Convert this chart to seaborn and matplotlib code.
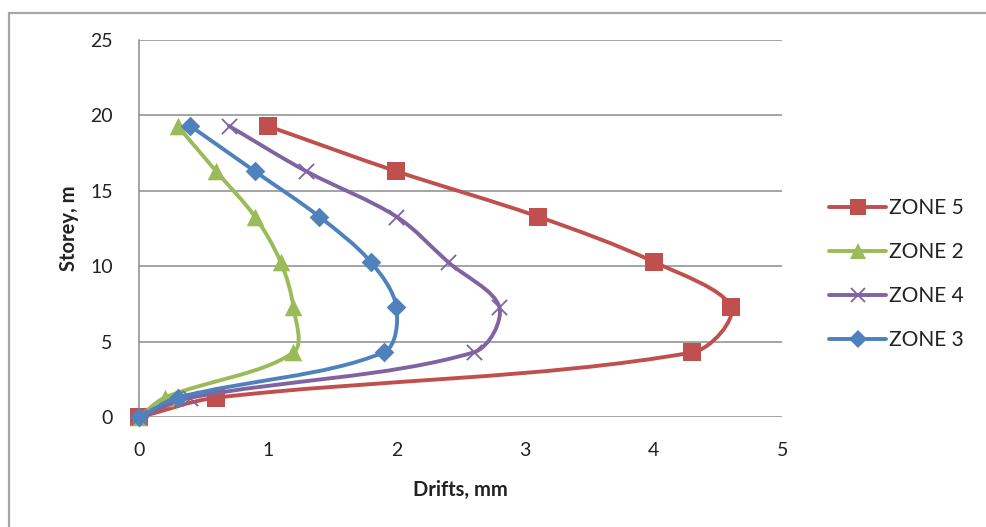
import numpy as np
import pandas as pd
import matplotlib
matplotlib.use("Agg")
import matplotlib.pyplot as plt
import seaborn as sns
from matplotlib.path import Path
from matplotlib.patches import PathPatch, Rectangle
from matplotlib.lines import Line2D

# ---- data ----
storey = [0, 1.3, 4.3, 7.3, 10.3, 13.3, 16.3, 19.3]
zone5 = [0, 0.6, 4.3, 4.6, 4.0, 3.1, 2.0, 1.0]
zone2 = [0, 0.2, 1.2, 1.2, 1.1, 0.9, 0.6, 0.3]
zone4 = [0, 0.4, 2.6, 2.8, 2.4, 2.0, 1.3, 0.7]
zone3 = [0, 0.3, 1.9, 2.0, 1.8, 1.4, 0.9, 0.4]
series_names = ["ZONE 5", "ZONE 2", "ZONE 4", "ZONE 3"]
x_ticks = [0, 1, 2, 3, 4, 5]
y_ticks = [0, 5, 10, 15, 20, 25]

series_vals = [zone5, zone2, zone4, zone3]
colors = ["#C0504D", "#9BBB59", "#8064A2", "#4F81BD"]
markers = ["s", "^", "x", "D"]
msizes = [160, 160, 120, 100]

sns.set_style("white")
plt.rcParams["font.family"] = ["Lato", "DejaVu Sans"]

fig = plt.figure(figsize=(9.87, 5.27), dpi=100)
L, R, T, B = 139, 782.5, 40, 417.3
W, H = 987, 527
ax = fig.add_axes([L / W, 1 - B / H, (R - L) / W, (B - T) / H])
ax.set_xlim(0, 5)
ax.set_ylim(0, 25)

# outer chart border
fig.patches.append(Rectangle((9 / W, -0.05), 1.2, 1 - 13 / H + 0.05,
                             transform=fig.transFigure, fill=False,
                             edgecolor="#A6A6A6", linewidth=1.6, zorder=0))

# pixel scales used for the length-weighted (Excel-like) smoothing
sx = (R - L) / 5.0
sy = (B - T) / 25.0


def smooth_path(xs, ys):
    """Excel-like smoothed line: length-weighted cardinal Bezier through the data points."""
    pts = np.column_stack([xs, ys]).astype(float)
    scale = np.array([sx, sy])
    n = len(pts)
    cin = [None] * n
    cout = [None] * n
    for i in range(n):
        p0 = pts[max(i - 1, 0)]
        p1 = pts[i]
        p2 = pts[min(i + 1, n - 1)]
        d01 = np.linalg.norm((p1 - p0) * scale)
        d12 = np.linalg.norm((p2 - p1) * scale)
        tot = d01 + d12
        if tot == 0:
            cin[i] = cout[i] = p1
            continue
        tan = p2 - p0
        cin[i] = p1 - tan * (d01 / tot) / 3.0
        cout[i] = p1 + tan * (d12 / tot) / 3.0
    verts = [pts[0]]
    codes = [Path.MOVETO]
    for i in range(n - 1):
        verts += [cout[i], cin[i + 1], pts[i + 1]]
        codes += [Path.CURVE4] * 3
    return Path(verts, codes)


for i, (name, vals) in enumerate(zip(series_names, series_vals)):
    df = pd.DataFrame({"Drifts": vals, "Storey": storey})
    patch = PathPatch(smooth_path(df["Drifts"], df["Storey"]), fill=False,
                      edgecolor=colors[i], linewidth=2.8, zorder=3 + 2 * i,
                      capstyle="round", joinstyle="round")
    ax.add_patch(patch)
    kw = dict(linewidth=1.3) if markers[i] == "x" else dict(linewidth=0)
    sns.scatterplot(data=df, x="Drifts", y="Storey", marker=markers[i],
                    color=colors[i], s=msizes[i], ax=ax, zorder=4 + 2 * i,
                    clip_on=False, legend=False, **kw)

ax.set_xlim(0, 5)
ax.set_ylim(0, 25)
ax.set_xticks(x_ticks)
ax.set_yticks(y_ticks)
ax.set_xticklabels([str(v) for v in x_ticks])
ax.set_yticklabels([str(v) for v in y_ticks])
ax.grid(axis="y", color="#8C8C8C", linewidth=1.1)
ax.grid(axis="x", visible=False)
ax.set_axisbelow(True)
for s in ["top", "right", "bottom"]:
    ax.spines[s].set_visible(False)
ax.spines["left"].set_color("#8C8C8C")
ax.spines["left"].set_linewidth(1.1)
ax.tick_params(axis="both", length=0, labelsize=14, colors="#222222")
ax.tick_params(axis="y", pad=19)
ax.tick_params(axis="x", pad=18)
ax.set_xlabel("Drifts, mm", fontsize=14.5, fontweight="bold", color="#222222", labelpad=15)
ax.set_ylabel("Storey, m", fontsize=14.5, fontweight="bold", color="#222222", labelpad=8)

handles = []
for i in range(4):
    if markers[i] == "x":
        h = Line2D([], [], color=colors[i], linewidth=2.8, marker="x", markersize=10,
                   markeredgewidth=1.3)
    else:
        h = Line2D([], [], color=colors[i], linewidth=2.8, marker=markers[i],
                   markersize=11 if markers[i] != "D" else 9, markeredgewidth=0)
    handles.append(h)
fig.legend(handles, series_names, loc="center left", bbox_to_anchor=(829 / W, 1 - 274 / H),
           frameon=False, fontsize=15, handlelength=2.75, handletextpad=0.12,
           labelspacing=1.15, borderpad=0, borderaxespad=0, labelcolor="#222222")

fig.savefig("out.png", dpi=100)
